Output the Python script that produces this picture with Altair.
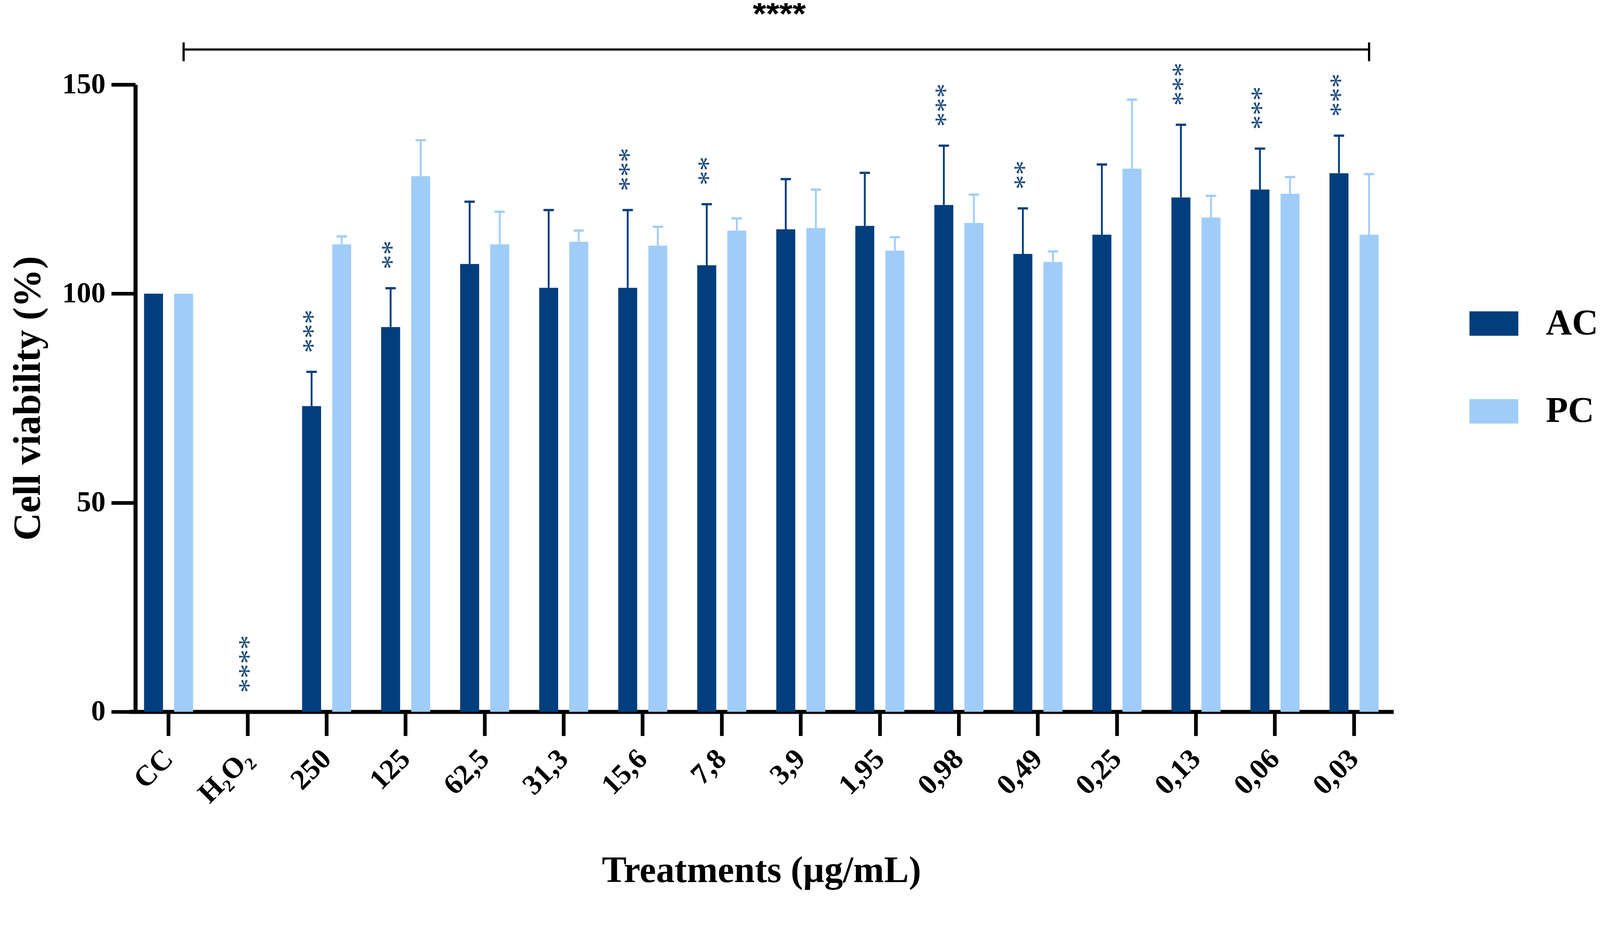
import altair as alt
import pandas as pd

categories = ["CC", "H₂O₂", "250", "125", "62,5", "31,3", "15,6", "7,8", "3,9",
              "1,95", "0,98", "0,49", "0,25", "0,13", "0,06", "0,03"]
series = ["AC", "PC"]
ac_mean = [100, 0, 73.1, 92.0, 107.1, 101.4, 101.4, 106.8, 115.4, 116.2, 121.2, 109.5, 114.1, 123.0, 124.9, 128.8]
ac_sd = [0, 0, 8.2, 9.3, 14.9, 18.6, 18.6, 14.6, 12.0, 12.7, 14.2, 10.9, 16.8, 17.4, 9.8, 9.0]
pc_mean = [100, 0, 111.8, 128.1, 111.8, 112.4, 111.5, 115.1, 115.7, 110.3, 116.9, 107.6, 129.9, 118.2, 123.9, 114.1]
pc_sd = [0, 0, 1.9, 8.6, 7.8, 2.7, 4.5, 2.9, 9.2, 3.2, 6.8, 2.5, 16.5, 5.2, 4.0, 14.5]
ac_stars = ["", "****", "***", "**", "", "", "***", "**", "", "", "***", "**", "", "***", "***", "***"]
bracket_label = "****"
bracket_label_at = "3,9"
bracket_label_level = 164.2
bracket_from, bracket_to = "CC", "0,03"
bracket_level = 158.4
bracket_tick = [155.6, 160.1]

colors = ["#023E7D", "#A0CDF8"]
star_color = "#1A4A7C"

rows = []
for i, c in enumerate(categories):
    rows.append({"category": c, "series": "AC", "mean": ac_mean[i], "sd": ac_sd[i]})
    rows.append({"category": c, "series": "PC", "mean": pc_mean[i], "sd": pc_sd[i]})
df = pd.DataFrame(rows)
df["upper"] = df["mean"] + df["sd"]
df_err = df[df["sd"] > 0]

star_rows = []
for i, c in enumerate(categories):
    if ac_stars[i]:
        star_rows.append({"category": c, "series": "AC", "top": ac_mean[i] + ac_sd[i],
                          "text": ac_stars[i], "centered": ac_mean[i] == 0})
df_stars = pd.DataFrame(star_rows)
df_stars_ac = df_stars[~df_stars["centered"]]
df_stars_c = df_stars[df_stars["centered"]]

# bracket drawn as segments: from PC bar of first group to PC bar of last group
df_br = pd.DataFrame([{"from": bracket_from, "to": bracket_to, "series": "PC", "level": bracket_level},
                      {"from": bracket_to, "to": bracket_to, "series": "PC", "level": bracket_level}])
df_br_ends = pd.DataFrame([{"category": bracket_from, "series": "PC", "lo": bracket_tick[0], "hi": bracket_tick[1]},
                           {"category": bracket_to, "series": "PC", "lo": bracket_tick[0], "hi": bracket_tick[1]}])
df_br_label = pd.DataFrame([{"category": bracket_label_at, "level": bracket_label_level, "text": bracket_label}])

xscale = alt.Scale(domain=categories, range=[-17, 3397], paddingInner=0, paddingOuter=0)
xoscale = alt.Scale(domain=series, paddingInner=0.369, paddingOuter=0.498)
yscale = alt.Scale(domain=[0, 150], nice=False)
x_axis = alt.Axis(title="Treatments (µg/mL)")
y_axis = alt.Axis(values=[0, 50, 100, 150], title="Cell viability (%)")
cscale = alt.Scale(domain=series, range=colors)


def X(field):
    return alt.X(field, type="nominal", scale=xscale, sort=categories, axis=x_axis)


def Y(field):
    return alt.Y(field, type="quantitative", scale=yscale, axis=y_axis)


XO = alt.XOffset("series:N", scale=xoscale)

bars = alt.Chart(df).mark_bar().encode(
    x=X("category"), xOffset=XO, y=Y("mean"),
    color=alt.Color("series:N", scale=cscale,
                    legend=alt.Legend(title=None, orient="none", legendX=3602, legendY=579)),
)

stems = alt.Chart(df_err).mark_rule(strokeWidth=5).encode(
    x=X("category"), xOffset=XO, y=Y("mean"), y2="upper:Q",
    stroke=alt.Stroke("series:N", scale=cscale, legend=None),
)

caps = alt.Chart(df_err).mark_tick(orient="horizontal", size=28, thickness=6, opacity=1).encode(
    x=X("category"), xOffset=XO, y=Y("upper"),
    fill=alt.Fill("series:N", scale=cscale, legend=None),
)

# significance stars: rotated text so the asterisks stack upward from the error bar
star_mark = dict(font="Liberation Serif", fontSize=78, angle=270, align="left",
                 baseline="alphabetic", color=star_color, dx=51, dy=29)

stars = alt.Chart(df_stars_ac).mark_text(**star_mark).encode(
    x=X("category"), xOffset=XO, y=Y("top"), text="text:N",
)

stars_c = alt.Chart(df_stars_c).mark_text(**star_mark).encode(
    x=X("category"), y=Y("top"), text="text:N",
)

bracket = alt.Chart(df_br).mark_rule(strokeWidth=6, color="black").encode(
    x=X("from"), x2="to:N", xOffset=XO, y=Y("level"),
)

bracket_ends = alt.Chart(df_br_ends).mark_rule(strokeWidth=6, color="black").encode(
    x=X("category"), xOffset=XO, y=Y("lo"), y2="hi:Q",
)

bracket_text = alt.Chart(df_br_label).mark_text(
    font="Liberation Sans", fontSize=92, fontWeight="bold", baseline="alphabetic",
    align="center", color="black", dx=-58,
).encode(x=X("category"), y=Y("level"), text="text:N")

chart = alt.layer(bars, stems, caps, stars, stars_c, bracket, bracket_ends, bracket_text).properties(
    width=3397, height=1693,
    autosize=alt.AutoSizeParams(type="none"),
    padding={"left": 357, "top": 155, "right": 549, "bottom": 532},
).configure_view(stroke=None).configure_axis(
    domainColor="black", domainWidth=11, tickColor="black", tickWidth=10, tickSize=65,
    labelFont="Liberation Serif", labelFontWeight="bold", labelFontSize=78, labelColor="black",
    titleFont="Liberation Serif", titleFontWeight="bold", titleFontSize=104, titleColor="black",
    grid=False,
).configure_axisX(
    labelAngle=-45, labelPadding=50, titlePadding=180, labelAlign="right", labelBaseline="middle",
    titleFontSize=100,
).configure_axisY(
    labelPadding=16, titlePadding=38,
).configure_legend(
    symbolType="M-1,-0.5L1,-0.5L1,0.5L-1,0.5Z", symbolSize=17424, symbolStrokeWidth=0,
    symbolOpacity=1, labelFont="Liberation Serif", labelFontWeight="bold", labelFontSize=98,
    labelColor="black", labelOffset=74, rowPadding=122, padding=0,
)

chart.save("out.html", embed_options={"renderer": "svg", "actions": False})
